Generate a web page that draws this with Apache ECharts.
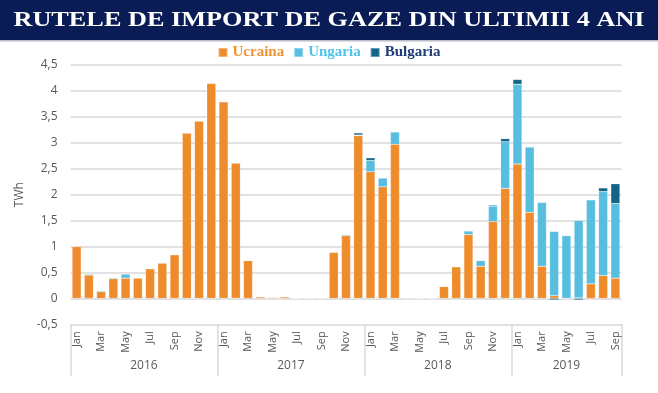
<!DOCTYPE html>
<html>
<head>
<meta charset="utf-8">
<script src="https://cdn.jsdelivr.net/npm/echarts@6/dist/echarts.min.js"></script>
<style>
html,body{margin:0;padding:0;background:#fff;}
#chart{width:658px;height:393px;}
</style>
</head>
<body>
<div id="chart"></div>
<script>
const titleText = 'RUTELE DE IMPORT DE GAZE DIN ULTIMII 4 ANI';
const seriesNames = ['Ucraina', 'Ungaria', 'Bulgaria'];
const monthNames = ['Jan','Feb','Mar','Apr','May','Jun','Jul','Aug','Sep','Oct','Nov','Dec'];
const years = ['2016','2017','2018','2019'];
const monthsPerYear = [12, 12, 12, 9];
const yTicks = [-0.5, 0, 0.5, 1, 1.5, 2, 2.5, 3, 3.5, 4, 4.5];

const ucraina = [
  1.00, 0.45, 0.13, 0.38, 0.39, 0.39, 0.57, 0.68, 0.84, 3.19, 3.42, 4.15,
  3.79, 2.61, 0.73, 0.03, 0.02, 0.03, 0, 0, 0, 0.89, 1.21, 3.14,
  2.44, 2.15, 2.97, 0, 0, 0, 0.23, 0.61, 1.23, 0.62, 1.48, 2.12,
  2.59, 1.66, 0.62, 0.05, 0, 0.01, 0.28, 0.44, 0.39
];
const ungaria = [
  0.01, 0.02, 0.02, 0.02, 0.08, 0.01, 0.01, 0.01, 0.01, 0, 0, 0,
  0, 0, 0, 0, 0, 0, 0, 0, 0, 0, 0.02, 0.01,
  0.22, 0.17, 0.24, 0.01, 0, 0, 0, 0, 0.07, 0.11, 0.30, 0.90,
  1.54, 1.26, 1.23, 1.24, 1.21, 1.49, 1.62, 1.62, 1.44
];
const bulgaria = [
  0, 0, 0, 0, 0, 0, 0, 0, 0, 0, 0, 0,
  0, 0, 0, 0, 0, 0, 0, 0, 0, 0, 0, 0.04,
  0.05, 0.01, 0, 0, 0, 0, 0, 0, 0, 0, 0.02, 0.06,
  0.09, 0, 0, -0.03, -0.01, -0.03, 0, 0.07, 0.38
];

// build category list & year boundaries from the arrays above
const categories = [];
const boundaries = [0];
const yearCenters = [];
let acc = 0;
years.forEach((y, i) => {
  for (let m = 0; m < monthsPerYear[i]; m++) categories.push(monthNames[m] + ' ' + y);
  yearCenters.push(acc + monthsPerYear[i] / 2);
  acc += monthsPerYear[i];
  boundaries.push(acc);
});

const colors = ['#EE8C2C', '#58BEDF', '#136587'];
const legendTextColors = ['#F0932F', '#4FC3EC', '#203C78'];
const gridColor = '#E2E2E2';
const labelColor = '#595959';

const chart = echarts.init(document.getElementById('chart'), null, {renderer: 'canvas'});
const fmt = v => String(v).replace('.', ',');

chart.setOption({
  animation: false,
  color: colors,
  graphic: [
    {type: 'rect', left: 0, top: 0, shape: {width: 658, height: 40}, style: {fill: '#0A1C55'}, z: 0},
    {type: 'rect', left: 0, top: 40, shape: {width: 658, height: 1.5}, style: {fill: '#B8BCC8'}, z: 0},
    {
      type: 'text', x: 329, y: 20, scaleX: 1.25, scaleY: 1.02,
      style: {
        text: titleText, fill: '#FFFFFF', align: 'center', verticalAlign: 'middle',
        font: 'bold 21px "Liberation Serif", "Times New Roman", serif'
      },
      z: 2
    }
  ],
  legend: {
    top: 40,
    left: 'center',
    itemWidth: 9,
    itemHeight: 9,
    itemGap: 9,
    icon: 'rect',
    textStyle: {fontFamily: '"Liberation Serif", serif', fontWeight: 'bold', fontSize: 15},
    data: seriesNames.map((n, i) => ({name: n, textStyle: {color: legendTextColors[i]}}))
  },
  grid: {left: 70.5, right: 36.5, top: 65, bottom: 68.7, containLabel: false},
  xAxis: [
    {
      type: 'category',
      data: categories,
      boundaryGap: true,
      position: 'bottom',
      axisLine: {show: true, onZero: false, lineStyle: {color: gridColor, width: 2}},
      axisTick: {show: false},
      axisLabel: {
        interval: 1, rotate: 90, color: labelColor, fontSize: 11, margin: 7,
        fontFamily: '"Open Sans", "Liberation Sans", sans-serif',
        formatter: v => v.split(' ')[0]
      },
      splitLine: {show: false}
    },
    {
      type: 'value',
      min: 0, max: acc,
      position: 'bottom',
      axisLine: {show: false, onZero: false},
      axisTick: {show: true, customValues: boundaries, length: 52, inside: false, lineStyle: {color: '#D9D9D9', width: 1.5}},
      axisLabel: {
        customValues: yearCenters, color: labelColor, fontSize: 12, margin: 35,
        fontFamily: '"Open Sans", "Liberation Sans", sans-serif',
        formatter: v => years[yearCenters.indexOf(v)]
      },
      splitLine: {show: false}
    }
  ],
  yAxis: {
    type: 'value',
    min: -0.5, max: 4.5, interval: 0.5,
    name: 'TWh',
    nameLocation: 'middle',
    nameGap: 38,
    nameRotate: 90,
    nameTextStyle: {color: labelColor, fontSize: 12, fontFamily: '"Open Sans", "Liberation Sans", sans-serif'},
    axisLine: {show: false},
    axisTick: {show: false},
    axisLabel: {color: labelColor, fontSize: 12, margin: 13, formatter: fmt,
      fontFamily: '"Open Sans", "Liberation Sans", sans-serif',
      customValues: yTicks},
    splitLine: {lineStyle: {color: gridColor, width: 2}}
  },
  series: [
    {name: seriesNames[0], type: 'bar', stack: 'tot', data: ucraina, barCategoryGap: '26%', xAxisIndex: 0,
     itemStyle: {borderColor: 'rgba(255,255,255,0.35)', borderWidth: 0.5}},
    {name: seriesNames[1], type: 'bar', stack: 'tot', data: ungaria, xAxisIndex: 0,
     itemStyle: {borderColor: 'rgba(255,255,255,0.35)', borderWidth: 0.5}},
    {name: seriesNames[2], type: 'bar', stack: 'tot', data: bulgaria, xAxisIndex: 0,
     itemStyle: {borderColor: 'rgba(255,255,255,0.35)', borderWidth: 0.5}}
  ]
});
</script>
</body>
</html>
